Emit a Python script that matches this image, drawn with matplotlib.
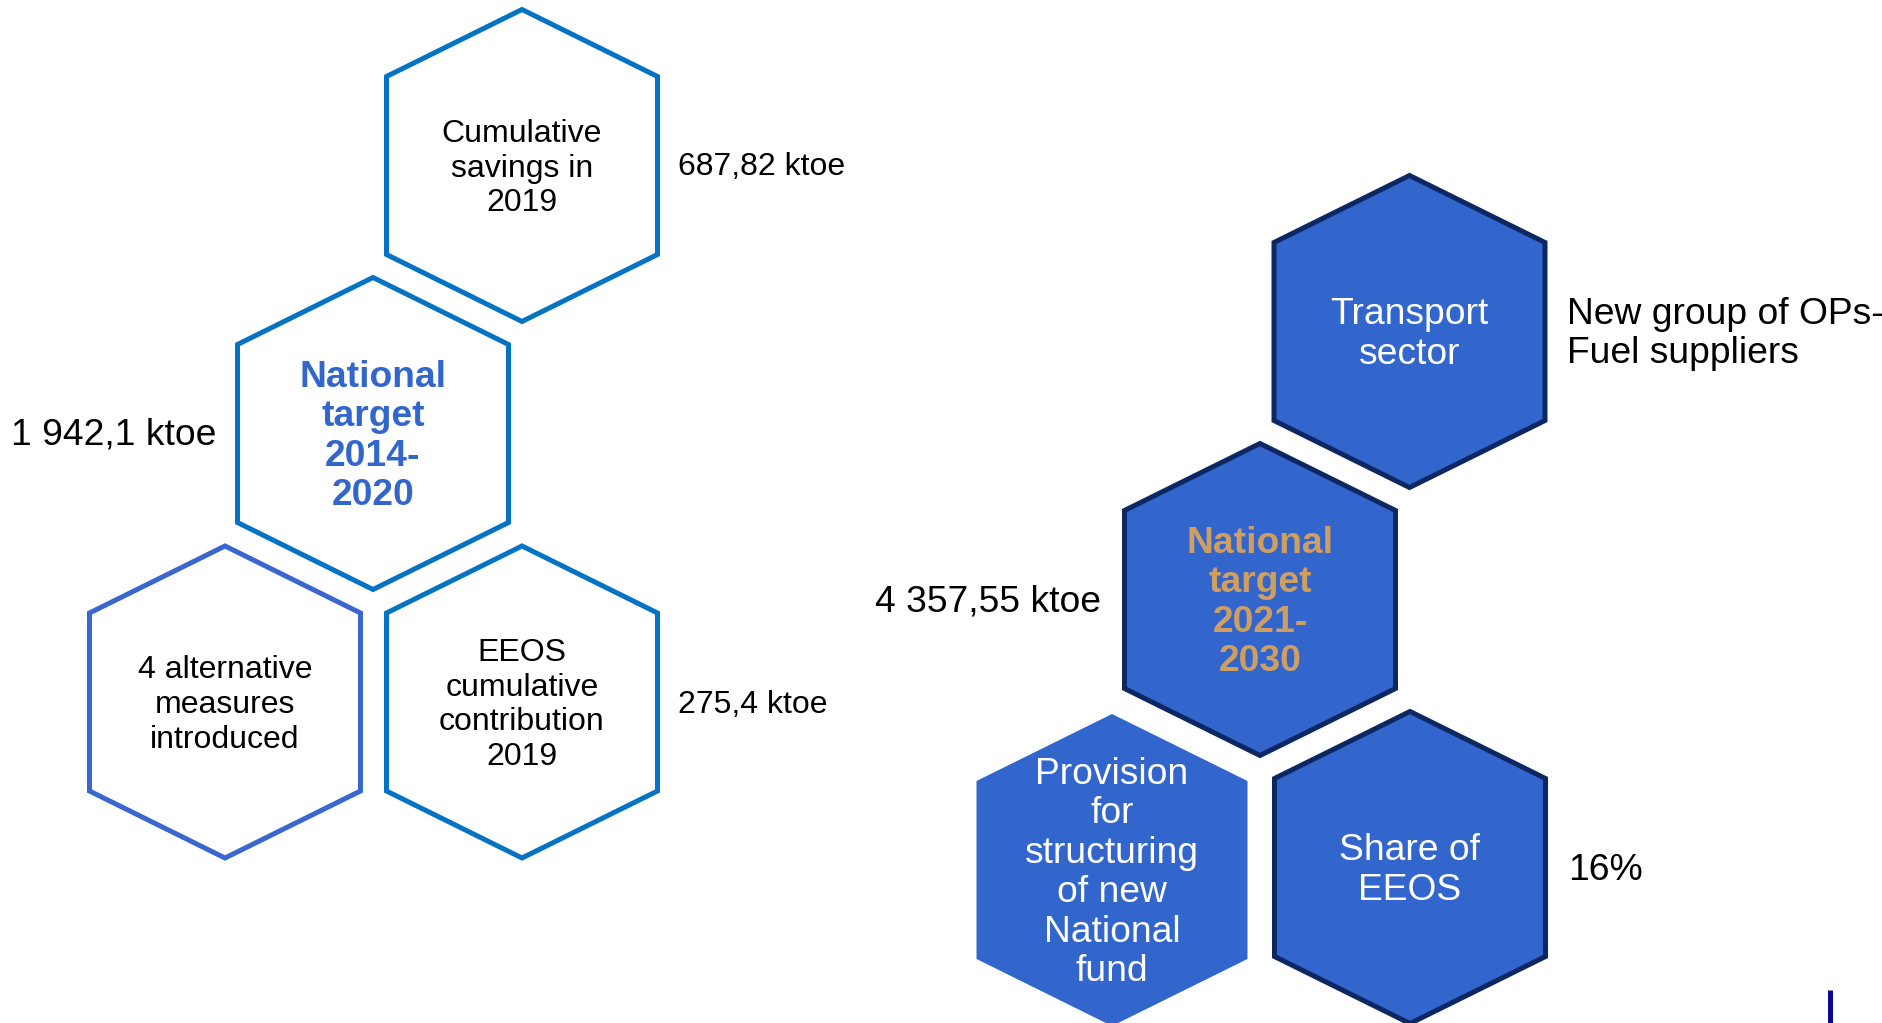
import matplotlib
matplotlib.use("Agg")
import matplotlib.pyplot as plt
from matplotlib.patches import Polygon

plt.rcParams['font.family'] = ['Liberation Sans', 'DejaVu Sans']

# ---- content ----
left_hex_labels = ["Cumulative\nsavings in\n2019",
                   "National\ntarget\n2014-\n2020",
                   "4 alternative\nmeasures\nintroduced",
                   "EEOS\ncumulative\ncontribution\n2019"]
left_values = ["687,82 ktoe", "1 942,1 ktoe", "275,4 ktoe"]

right_hex_labels = ["Transport\nsector",
                    "National\ntarget\n2021-\n2030",
                    "Provision\nfor\nstructuring\nof new\nNational\nfund",
                    "Share of\nEEOS"]
right_values = ["New group of OPs-\nFuel suppliers", "4 357,55 ktoe", "16%"]

# ---- layout (pixel space of the canvas) ----
W, H = 1882, 1023
HEX_W, HEX_H, TIP = 271, 312, 67
DY = 3  # text baseline nudge

left_centers = [(522, 165.5), (373, 433.5), (225, 702), (522, 702)]
left_edge = ["#0573C4", "#0573C4", "#3A66D0", "#0573C4"]
right_centers = [(1409.5, 331.5), (1260, 599.5), (1112, 870), (1410, 867.5)]
right_edge = ["#0D2763", "#0D2763", "none", "#0D2763"]

FILL = "#3366CC"
SMALL, BIG = 23, 26.8
LS_SMALL, LS_BIG = 1.21, 1.17


def hexagon(cx, cy):
    hw, hh = HEX_W / 2, HEX_H / 2
    return [(cx, cy - hh), (cx + hw, cy - hh + TIP), (cx + hw, cy + hh - TIP),
            (cx, cy + hh), (cx - hw, cy + hh - TIP), (cx - hw, cy - hh + TIP)]


fig = plt.figure(figsize=(W / 100, H / 100), dpi=100)
ax = fig.add_axes([0, 0, 1, 1])
ax.set_xlim(0, W)
ax.set_ylim(H, 0)
ax.axis("off")

# left cluster: outlined hexagons
for (cx, cy), ec in zip(left_centers, left_edge):
    ax.add_patch(Polygon(hexagon(cx, cy), closed=True, facecolor="white",
                         edgecolor=ec, linewidth=3.6, joinstyle="miter"))

for i, ((cx, cy), lab) in enumerate(zip(left_centers, left_hex_labels)):
    if i == 1:
        ax.text(cx, cy + DY, lab, ha="center", va="center", fontsize=BIG,
                fontweight="bold", color="#3366CC", linespacing=LS_BIG)
    else:
        ax.text(cx, cy + DY, lab, ha="center", va="center", fontsize=SMALL,
                color="black", linespacing=LS_SMALL)

ax.text(678, 164 + DY, left_values[0], ha="left", va="center", fontsize=SMALL)
ax.text(11, 432 + DY, left_values[1], ha="left", va="center", fontsize=BIG)
ax.text(678, 702 + DY, left_values[2], ha="left", va="center", fontsize=SMALL)

# right cluster: filled hexagons
for (cx, cy), ec in zip(right_centers, right_edge):
    ax.add_patch(Polygon(hexagon(cx, cy), closed=True, facecolor=FILL,
                         edgecolor=ec, linewidth=3.6 if ec != "none" else 0,
                         joinstyle="miter"))

for i, ((cx, cy), lab) in enumerate(zip(right_centers, right_hex_labels)):
    if i == 1:
        ax.text(cx, cy + DY, lab, ha="center", va="center", fontsize=BIG,
                fontweight="bold", color="#CF9F62", linespacing=LS_BIG)
    else:
        ax.text(cx, cy + DY, lab, ha="center", va="center", fontsize=BIG,
                color="white", linespacing=LS_BIG)

ax.text(1567, 331 + DY, right_values[0], ha="left", va="center", fontsize=BIG,
        linespacing=LS_BIG)
ax.text(875, 599 + DY, right_values[1], ha="left", va="center", fontsize=BIG)
ax.text(1568, 868 + DY, right_values[2], ha="left", va="center", fontsize=BIG)

# small decorative bar at bottom right
ax.plot([1830.5, 1830.5], [990, 1023], color="#0A0A96", linewidth=3.6,
        solid_capstyle="butt")

fig.savefig("out.png", dpi=100)
